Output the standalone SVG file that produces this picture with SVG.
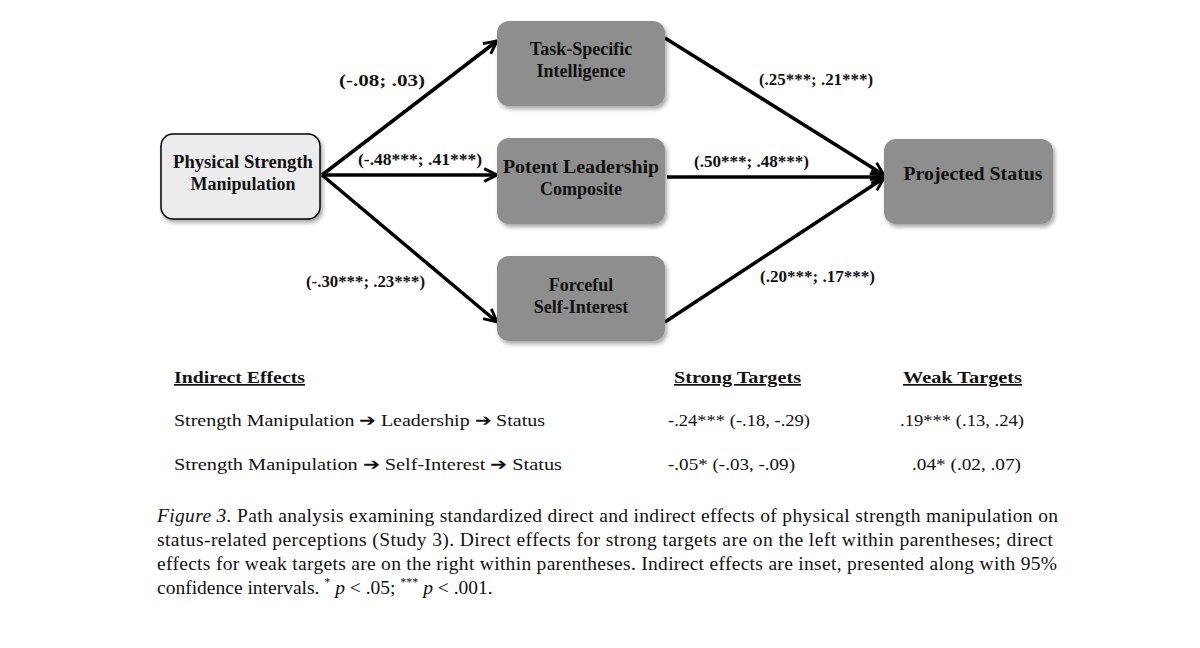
<svg xmlns="http://www.w3.org/2000/svg" width="1200" height="648" viewBox="0 0 1200 648">
<defs>
<marker id="ah" viewBox="0 0 10 10" refX="9" refY="5" markerWidth="16" markerHeight="16" orient="auto" markerUnits="userSpaceOnUse" style="overflow:visible">
<path d="M1,1 L9,5 L1,9" fill="none" stroke="#000" stroke-width="1.8"/>
</marker>
<filter id="sh" x="-10%" y="-10%" width="125%" height="130%"><feDropShadow dx="2" dy="3" stdDeviation="2" flood-color="#000" flood-opacity="0.35"/></filter>
</defs>
<style>
text{font-family:"Liberation Serif","DejaVu Serif",serif;fill:#111}
.n{font-size:18px;font-weight:bold;text-anchor:middle}
.l{font-size:16px;font-weight:bold}
.t{font-size:17px}
.c{font-size:19.5px}
.g{fill:#8e8e8e}
.e{stroke:#000;stroke-width:3.5;fill:none}
</style>
<rect width="1200" height="648" fill="#fff"/>
<g id="connectors">
<line class="e" x1="322" y1="175" x2="497" y2="41" marker-end="url(#ah)"/>
<line class="e" x1="322" y1="175" x2="497" y2="175" marker-end="url(#ah)"/>
<line class="e" x1="322" y1="175" x2="497" y2="322" marker-end="url(#ah)"/>
<line class="e" x1="665" y1="38" x2="884" y2="175" marker-end="url(#ah)"/>
<line class="e" x1="667" y1="177" x2="884" y2="177" marker-end="url(#ah)"/>
<line class="e" x1="665" y1="322" x2="884" y2="178" marker-end="url(#ah)"/>
<text class="l" x="339" y="86" textLength="86" lengthAdjust="spacingAndGlyphs">(-.08; .03)</text>
<text class="l" x="358" y="165" textLength="124" lengthAdjust="spacingAndGlyphs">(-.48***; .41***)</text>
<text class="l" x="306" y="287" textLength="119" lengthAdjust="spacingAndGlyphs">(-.30***; .23***)</text>
<text class="l" x="759" y="85" textLength="114" lengthAdjust="spacingAndGlyphs">(.25***; .21***)</text>
<text class="l" x="694" y="167" textLength="115" lengthAdjust="spacingAndGlyphs">(.50***; .48***)</text>
<text class="l" x="760" y="282" textLength="115" lengthAdjust="spacingAndGlyphs">(.20***; .17***)</text>
</g>
<g id="node-physical">
<rect x="161" y="134" width="159" height="85" rx="12" fill="#ececec" stroke="#000" stroke-width="1.5" filter="url(#sh)"/>
<text class="n" x="243" y="168" textLength="140" lengthAdjust="spacingAndGlyphs">Physical Strength</text>
<text class="n" x="243" y="190">Manipulation</text>
</g>
<g id="node-task">
<rect class="g" x="497" y="21" width="168" height="85" rx="12" filter="url(#sh)"/>
<text class="n" x="581" y="55">Task-Specific</text>
<text class="n" x="581" y="77">Intelligence</text>
</g>
<g id="node-leadership">
<rect class="g" x="497" y="138" width="168" height="86" rx="12" filter="url(#sh)"/>
<text class="n" x="581" y="173" textLength="156" lengthAdjust="spacingAndGlyphs">Potent Leadership</text>
<text class="n" x="581" y="195">Composite</text>
</g>
<g id="node-forceful">
<rect class="g" x="497" y="256" width="168" height="85" rx="12" filter="url(#sh)"/>
<text class="n" x="581" y="291">Forceful</text>
<text class="n" x="581" y="313">Self-Interest</text>
</g>
<g id="node-status">
<rect class="g" x="884" y="139" width="169" height="85" rx="12" filter="url(#sh)"/>
<text class="n" x="973" y="180" textLength="139" lengthAdjust="spacingAndGlyphs">Projected Status</text>
</g>
<g id="table">
<text class="t" x="174" y="383" font-weight="bold" text-decoration="underline" textLength="131" lengthAdjust="spacingAndGlyphs">Indirect Effects</text>
<text class="t" x="674" y="383" font-weight="bold" text-decoration="underline" textLength="127" lengthAdjust="spacingAndGlyphs">Strong Targets</text>
<text class="t" x="903" y="383" font-weight="bold" text-decoration="underline" textLength="119" lengthAdjust="spacingAndGlyphs">Weak Targets</text>
<text class="t" x="174" y="426" textLength="371" lengthAdjust="spacingAndGlyphs">Strength Manipulation ➔ Leadership ➔ Status</text>
<text class="t" x="668" y="426" textLength="142" lengthAdjust="spacingAndGlyphs">-.24*** (-.18, -.29)</text>
<text class="t" x="900" y="426" textLength="124" lengthAdjust="spacingAndGlyphs">.19*** (.13, .24)</text>
<text class="t" x="174" y="470" textLength="388" lengthAdjust="spacingAndGlyphs">Strength Manipulation ➔ Self-Interest ➔  Status</text>
<text class="t" x="668" y="470" textLength="127" lengthAdjust="spacingAndGlyphs">-.05* (-.03, -.09)</text>
<text class="t" x="912" y="470" textLength="109" lengthAdjust="spacingAndGlyphs">.04* (.02, .07)</text>
</g>
<g id="caption">
<text class="c" x="157" y="522" textLength="901"><tspan font-style="italic">Figure 3.</tspan>   Path analysis examining standardized direct and indirect effects of physical strength manipulation on</text>
<text class="c" x="157" y="546" textLength="896">status-related perceptions (Study 3). Direct effects for strong targets are on the left within parentheses; direct</text>
<text class="c" x="157" y="570" textLength="900">effects for weak targets are on the right within parentheses. Indirect effects are inset, presented along with 95%</text>
<text class="c" x="157" y="594">confidence intervals. <tspan font-size="12" dy="-8">*</tspan><tspan dy="8"> </tspan><tspan font-style="italic">p</tspan> &lt; .05; <tspan font-size="12" dy="-8">***</tspan><tspan dy="8"> </tspan><tspan font-style="italic">p</tspan> &lt; .001.</text>
</g>
</svg>
